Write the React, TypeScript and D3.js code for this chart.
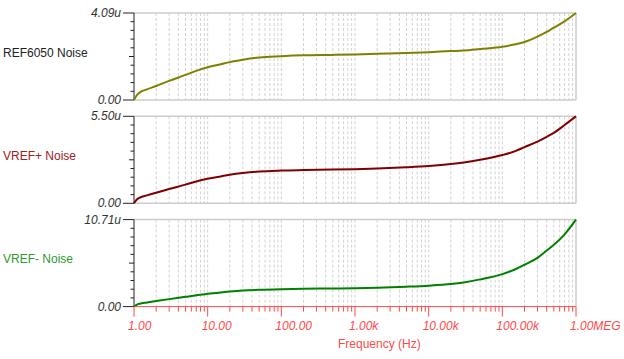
import React from "react";
import * as d3 from "d3";

// frequency points (Hz)
const freqs = [
  1, 1.1, 1.2, 1.5, 2, 3, 5, 7, 10, 15, 20, 30, 50, 100, 200, 500, 1000, 2000, 5000, 10000,
  20000, 30000, 50000, 100000, 150000, 200000, 300000, 400000, 500000, 700000, 1000000,
];

// noise values in uV
const ref6050 = [
  0, 0.24, 0.36, 0.5, 0.66, 0.9, 1.18, 1.37, 1.54, 1.68, 1.78, 1.89, 2.0, 2.06, 2.1, 2.12, 2.14,
  2.17, 2.21, 2.25, 2.3, 2.33, 2.4, 2.5, 2.62, 2.73, 2.98, 3.2, 3.4, 3.7, 4.09,
];
const vrefPlus = [
  0, 0.25, 0.36, 0.5, 0.67, 0.9, 1.18, 1.38, 1.55, 1.7, 1.8, 1.91, 2.01, 2.07, 2.1, 2.13, 2.16,
  2.2, 2.28, 2.36, 2.48, 2.58, 2.75, 3.05, 3.3, 3.55, 3.9, 4.2, 4.45, 4.95, 5.5,
];
const vrefMinus = [
  0, 0.25, 0.36, 0.5, 0.68, 0.92, 1.2, 1.4, 1.57, 1.75, 1.85, 1.97, 2.07, 2.15, 2.2, 2.23, 2.26,
  2.32, 2.45, 2.58, 2.78, 2.98, 3.35, 4.0, 4.6, 5.15, 6.0, 6.9, 7.6, 8.9, 10.71,
];

const panelNames = ["REF6050 Noise", "VREF+ Noise", "VREF- Noise"];
const panelMax = [4.09, 5.5, 10.71];
const panelMaxLabels = ["4.09u", "5.50u", "10.71u"];
const panelSeries = [ref6050, vrefPlus, vrefMinus];
const lineColors = ["#808000", "#800000", "#008000"];
const titleColors = ["#222222", "#9b2222", "#2f9a2f"];

const xTicks = [1, 10, 100, 1000, 10000, 100000, 1000000];
const xTickLabels = ["1.00", "10.00", "100.00", "1.00k", "10.00k", "100.00k", "1.00MEG"];

const W = 624;
const H = 359;
const left = 134;
const right = 576;
const panelTop0 = 13;
const panelStep = 103.3;
const panelH = 87;
const font = "Arial, 'Liberation Sans', sans-serif";
const red = "#ff4a4a";

export default function App() {
  const x = d3.scaleLog().domain([1, 1e6]).range([left, right]);
  // minor grid positions: 2..9 of each decade plus decade lines
  const gridVals: number[] = [];
  for (let d = 1; d < 1e6; d *= 10) {
    for (let k = 1; k < 10; k++) {
      if (d * k > 1) gridVals.push(d * k);
    }
  }
  const axisY = panelTop0 + 2 * panelStep + panelH;

  return (
    <svg
      width={W}
      height={H}
      style={{ position: "absolute", left: 0, top: 0, background: "#fff" }}
      fontFamily={font}
    >
      {panelNames.map((name, i) => {
        const top = panelTop0 + i * panelStep;
        const bottom = top + panelH;
        const y = d3.scaleLinear().domain([0, panelMax[i]]).range([bottom, top]);
        const line = d3
          .line<number>()
          .x((_, j) => x(freqs[j]))
          .y((v) => y(v))
          .curve(d3.curveMonotoneX);
        const yTicks = d3.range(11).map((k) => (panelMax[i] * k) / 10);
        return (
          <g key={name}>
            {gridVals.map((g) => (
              <line
                key={g}
                x1={x(g)}
                x2={x(g)}
                y1={top}
                y2={bottom}
                stroke="#d2d2d2"
                strokeDasharray="3,2"
              />
            ))}
            <line x1={left} x2={right} y1={top} y2={top} stroke="#cccccc" strokeWidth={1.5} />
            <line x1={right} x2={right} y1={top} y2={bottom} stroke="#cccccc" strokeWidth={1.5} />
            {i < 2 && (
              <line x1={left} x2={right} y1={bottom} y2={bottom} stroke="#cccccc" strokeWidth={1.5} />
            )}
            <line x1={left} x2={left} y1={top} y2={bottom} stroke="#222" />
            {yTicks.map((t, k) => {
              const len = k === 0 || k === 10 ? 11 : k === 5 ? 5 : 3.5;
              return (
                <line key={k} x1={left - len} x2={left} y1={y(t)} y2={y(t)} stroke="#222" />
              );
            })}
            <text x={121} y={y(panelMax[i]) + 4} textAnchor="end" fontSize={12} fontStyle="italic" fill="#333">
              {panelMaxLabels[i]}
            </text>
            <text x={121} y={bottom + 4} textAnchor="end" fontSize={12} fontStyle="italic" fill="#333">
              0.00
            </text>
            <text x={3} y={(top + bottom) / 2} fontSize={12} fill={titleColors[i]}>
              {name}
            </text>
            <path d={line(panelSeries[i]) || ""} fill="none" stroke={lineColors[i]} strokeWidth={2} />
          </g>
        );
      })}
      <line x1={left} x2={right} y1={axisY} y2={axisY} stroke={red} />
      {[1, ...gridVals].map((g) => {
        const major = xTicks.includes(g) || g === 1e6;
        return (
          <line key={g} x1={x(g)} x2={x(g)} y1={axisY} y2={axisY + (major ? 10 : 5)} stroke={red} />
        );
      })}
      <line x1={right} x2={right} y1={axisY} y2={axisY + 10} stroke={red} />
      {xTicks.map((t, k) => (
        <text key={t} x={x(t) - 6} y={axisY + 23} fontSize={12} fontStyle="italic" fill={red}>
          {xTickLabels[k]}
        </text>
      ))}
      <text x={338} y={axisY + 41} fontSize={12} fill={red}>
        Frequency (Hz)
      </text>
    </svg>
  );
}
